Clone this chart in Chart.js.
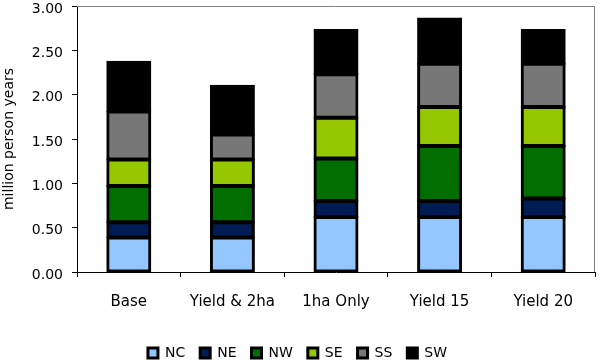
<!DOCTYPE html>
<html>
<head>
<meta charset="utf-8">
<script src="https://cdn.jsdelivr.net/npm/chart.js@4/dist/chart.umd.min.js"></script>
<style>
  html, body { margin: 0; padding: 0; background: #fff; }
  #wrap { width: 600px; height: 363px; }
</style>
</head>
<body>
<div id="wrap"><canvas id="chart"></canvas></div>
<script>
const categories = ['Base', 'Yield & 2ha', '1ha Only', 'Yield 15', 'Yield 20'];
const regions = ['NC', 'NE', 'NW', 'SE', 'SS', 'SW'];
const nc = [0.39, 0.39, 0.62, 0.62, 0.62];
const ne = [0.17, 0.17, 0.18, 0.18, 0.21];
const nw = [0.41, 0.41, 0.48, 0.62, 0.59];
const se = [0.30, 0.30, 0.46, 0.44, 0.44];
const ss = [0.54, 0.28, 0.49, 0.49, 0.49];
const sw = [0.56, 0.55, 0.50, 0.51, 0.38];
const colors = ['#94c6ff', '#001c55', '#006e00', '#96c800', '#777777', '#000000'];

const series = [nc, ne, nw, se, ss, sw];
const font = 'DejaVu Sans';

// gray frame on top and right of the plot area
const frame = {
  id: 'frame',
  afterDraw(chart) {
    const a = chart.chartArea, ctx = chart.ctx;
    ctx.save();
    ctx.strokeStyle = '#808080';
    ctx.lineWidth = 1;
    ctx.beginPath();
    ctx.moveTo(a.left, a.top + 0.5);
    ctx.lineTo(a.right - 0.5, a.top + 0.5);
    ctx.lineTo(a.right - 0.5, a.bottom);
    ctx.stroke();
    ctx.restore();
  }
};

new Chart(document.getElementById('chart'), {
  type: 'bar',
  data: {
    labels: categories,
    datasets: regions.map((r, i) => ({
      label: r,
      data: series[i],
      backgroundColor: colors[i],
      borderColor: '#000',
      borderWidth: 3,
      borderSkipped: false,
      inflateAmount: 1,
      barPercentage: 1,
      categoryPercentage: 0.415
    }))
  },
  options: {
    responsive: true,
    maintainAspectRatio: false,
    animation: false,
    layout: { padding: { top: 6, right: 5, left: 0, bottom: -7 } },
    plugins: {
      tooltip: { enabled: false },
      legend: {
        position: 'bottom',
        labels: {
          color: '#000',
          font: { family: font, size: 14 },
          boxWidth: 10,
          boxHeight: 10,
          padding: 15
        }
      }
    },
    scales: {
      x: {
        stacked: true,
        afterFit: s => { s.height = 59; },
        grid: { offset: true, drawOnChartArea: false, color: '#000', tickLength: 5 },
        border: { color: '#000', width: 1 },
        ticks: { color: '#000', padding: 16, font: { family: font, size: 15 } }
      },
      y: {
        stacked: true,
        min: 0,
        max: 3,
        afterFit: s => { s.width = 77; s.paddingTop = 0; s.paddingBottom = 0; },
        grid: { drawOnChartArea: false, color: '#000', tickLength: 5 },
        border: { color: '#000', width: 1 },
        ticks: {
          stepSize: 0.5,
          color: '#000',
          padding: 9,
          labelOffset: 3,
          font: { family: font, size: 14 },
          callback: v => v.toFixed(2)
        },
        title: {
          display: true,
          text: 'million person years',
          color: '#000',
          font: { family: font, size: 14 },
          padding: { top: 1, bottom: 0 }
        }
      }
    }
  },
  plugins: [frame]
});
</script>
</body>
</html>
